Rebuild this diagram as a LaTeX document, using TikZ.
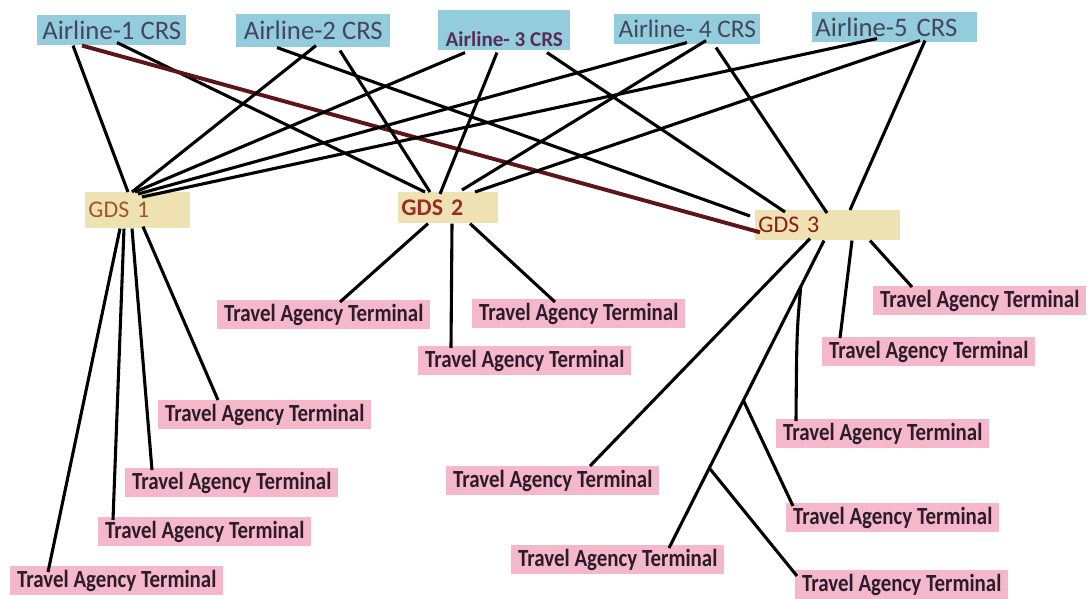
\documentclass[tikz,border=0pt]{standalone}
\usepackage{fontspec}
\setmainfont{Carlito}
\newfontfamily\tafont[FakeStretch=0.85]{Carlito}
\usetikzlibrary{calc}
\definecolor{crsblue}{HTML}{93CDDD}
\definecolor{crstext}{HTML}{45455F}
\definecolor{crsthree}{HTML}{5A2A5A}
\definecolor{gdstan}{HTML}{EFE2B2}
\definecolor{gdsone}{HTML}{A5532A}
\definecolor{gdstwo}{HTML}{9A2E22}
\definecolor{gdsthree}{HTML}{8A1C1C}
\definecolor{tapink}{HTML}{F5B7CA}
\definecolor{talabel}{HTML}{2B1B2B}
\definecolor{feedred}{HTML}{5E1518}
\tikzstyle{crs} = [rectangle, anchor=north west, fill=crsblue, text=crstext, inner sep=0pt, minimum height=0.75cm, font=\fontsize{19}{21}\selectfont]
\tikzstyle{gds} = [rectangle, anchor=north west, fill=gdstan, inner xsep=0.08cm, inner ysep=0pt, align=left, font=\fontsize{17}{19}\selectfont]
\tikzstyle{terminal} = [rectangle, anchor=north west, fill=tapink, text=talabel, inner sep=0pt, minimum width=5.325cm, minimum height=0.725cm, font=\tafont\bfseries\fontsize{17.5}{19}\selectfont]
\tikzstyle{link} = [line width=2.2pt, black]
\tikzstyle{redlink} = [line width=2.8pt, feedred]

\begin{document}
\begin{tikzpicture}[x=0.025cm, y=-0.025cm]
                \useasboundingbox (0,0) rectangle (1088,599);

                \node (air1) [crs, minimum width=3.725cm] at (37,15) {Airline-1 CRS};
                \node (air2) [crs, minimum width=3.85cm, minimum height=0.825cm] at (236,14) {Airline-2 CRS};
                \node (air3) [crs, minimum width=3.3cm, text=crsthree, text height=0.9cm, text depth=0.1cm, font=\bfseries\fontsize{15}{17}\selectfont] at (438,10) {Airline- 3 CRS};
                \node (air4) [crs, minimum width=3.65cm, font=\fontsize{18}{20}\selectfont] at (614,14) {Airline- 4 CRS};
                \node (air5) [crs, inner xsep=0.08cm, text width=3.965cm, align=left] at (812,12) {Airline-5 CRS};

                \node (gds1) [gds, text=gdsone, text width=2.465cm, minimum height=0.9cm] at (85,192) {GDS 1};
                \node (gds2) [gds, text=gdstwo, text width=2.34cm, minimum height=0.775cm, font=\bfseries\fontsize{17}{19}\selectfont] at (398,192) {GDS 2};
                \node (gds3) [gds, text=gdsthree, text width=3.465cm, minimum height=0.75cm] at (755,210) {GDS 3};

                \node (t1a) [terminal] at (158,400) {Travel Agency Terminal};
                \node (t1b) [terminal] at (125,468) {Travel Agency Terminal};
                \node (t1c) [terminal] at (98,517) {Travel Agency Terminal};
                \node (t1d) [terminal] at (10,566) {Travel Agency Terminal};
                \node (t2a) [terminal] at (217,300) {Travel Agency Terminal};
                \node (t2b) [terminal] at (418,346) {Travel Agency Terminal};
                \node (t2c) [terminal] at (472,299) {Travel Agency Terminal};
                \node (t3a) [terminal] at (873,286) {Travel Agency Terminal};
                \node (t3b) [terminal] at (822,337) {Travel Agency Terminal};
                \node (t3c) [terminal] at (776,419) {Travel Agency Terminal};
                \node (t3d) [terminal] at (446,466) {Travel Agency Terminal};
                \node (t3e) [terminal] at (786,503) {Travel Agency Terminal};
                \node (t3f) [terminal] at (511,545) {Travel Agency Terminal};
                \node (t3g) [terminal] at (795,570) {Travel Agency Terminal};

                \draw [link] ($(air1.south west)+(36,0)$) -- ($(gds1.north west)+(43,0)$);
                \draw [link] ($(air1.south west)+(80,-3)$) -- ($(gds2.north west)+(27,0)$);
                \draw [redlink] ($(air1.south west)+(45,0)$) -- ($(gds3.west)+(5,7)$);
                \draw [link] ($(air2.south west)+(80,-2)$) -- ($(gds1.north west)+(47,0)$);
                \draw [link] ($(air2.south west)+(41,0)$) -- ($(gds3.north west)+(-5,6)$);
                \draw [link] ($(air2.south west)+(104,3)$) -- ($(gds2.north west)+(32,0)$);
                \draw [link] ($(air3.south west)+(27,2)$) -- ($(gds1.north west)+(50,0)$);
                \draw [link] ($(air3.south west)+(59,2)$) -- ($(gds2.north west)+(42,2)$);
                \draw [link] ($(air3.south west)+(109,2)$) -- ($(gds3.north west)+(30,2)$);
                \draw [link] ($(air4.south west)+(73,-2)$) -- ($(gds1.north west)+(53,2)$);
                \draw [link] ($(air4.south west)+(92,-4)$) -- ($(gds2.north west)+(64,-2)$);
                \draw [link] ($(air4.south west)+(102,3)$) -- ($(gds3.north west)+(72,3)$);
                \draw [link] ($(air5.south west)+(65,-4)$) -- ($(gds1.north west)+(57,5)$);
                \draw [link] ($(air5.south west)+(108,-2)$) -- ($(gds2.north west)+(77,0)$);
                \draw [link] ($(air5.south west)+(113,-2)$) -- ($(gds3.north west)+(95,0)$);

                \draw [link] ($(gds1.south west)+(58,-2)$) -- ($(t1a.north west)+(60,0)$);
                \draw [link] ($(gds1.south west)+(47,0)$) -- ($(t1b.north west)+(27,2)$);
                \draw [link] ($(gds1.south west)+(39,0)$) -- ($(t1c.north west)+(15,3)$);
                \draw [link] ($(gds1.south west)+(35,0)$) -- ($(t1d.north west)+(38,6)$);
                \draw [link] ($(gds2.south west)+(30,0)$) -- ($(t2a.north west)+(123,2)$);
                \draw [link] ($(gds2.south west)+(54,0)$) -- ($(t2b.north west)+(33,2)$);
                \draw [link] ($(gds2.south west)+(72,0)$) -- ($(t2c.north west)+(83,3)$);
                \draw [link] ($(gds3.south west)+(115,0)$) -- ($(t3a.north west)+(39,1)$);
                \draw [link] ($(gds3.south west)+(97,0)$) -- ($(t3b.north west)+(18,1)$);
                \draw [link] ($(gds3.south west)+(55,-2)$) -- ($(t3d.north west)+(144,0)$);
                \draw [link] ($(gds3.south west)+(69,0)$) -- ($(t3f.north west)+(158,3)$) coordinate[pos=0.15] (fork1) coordinate[pos=0.52] (fork2) coordinate[pos=0.74] (fork3);
                \draw [link] (fork1) .. controls ($(fork1)+(-4,45)$) .. ($(t3c.north west)+(20,2)$);
                \draw [link] (fork2) -- ($(t3e.north west)+(7,3)$);
                \draw [link] (fork3) -- ($(t3g.north west)+(2,6)$);
            \end{tikzpicture}
\end{document}
